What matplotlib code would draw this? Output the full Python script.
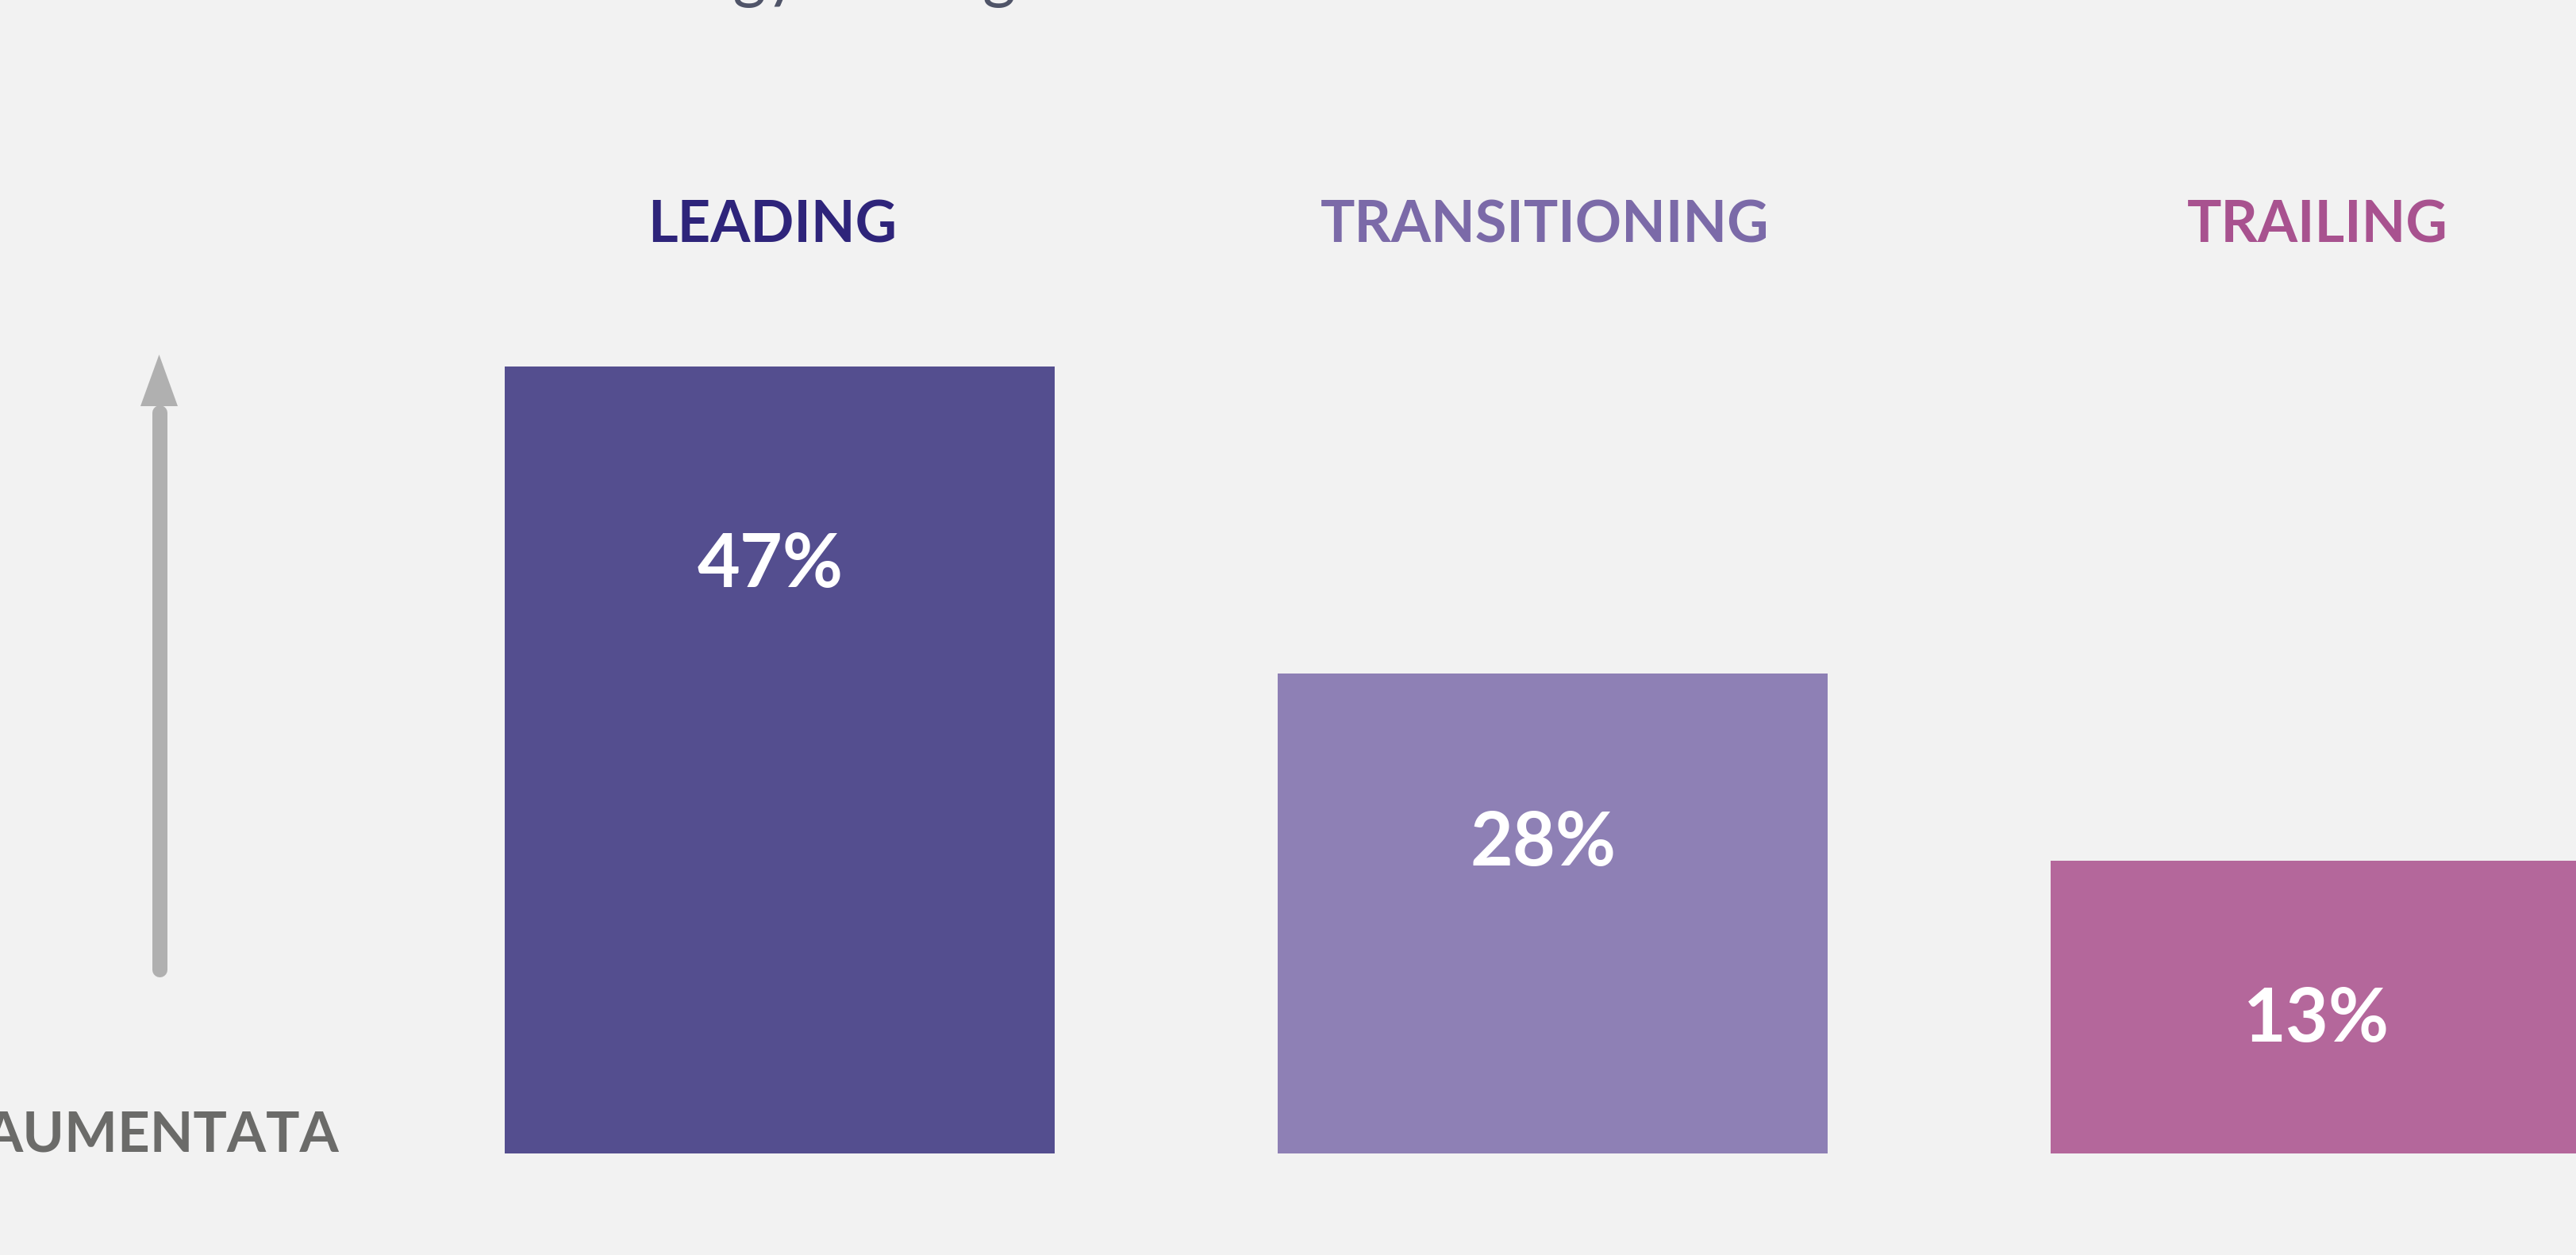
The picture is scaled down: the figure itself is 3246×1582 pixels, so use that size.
# -*- coding: utf-8 -*-
import matplotlib
matplotlib.use("Agg")
import matplotlib.pyplot as plt
from matplotlib.patches import Polygon
from matplotlib.lines import Line2D

# Data
categories = ["LEADING", "TRANSITIONING", "TRAILING"]
shares = [47, 28, 13]
# visual bar heights (the bars are not drawn to scale in the original)
bar_heights = [47, 28.65, 17.45]
bar_colors = ["#544e8f", "#8e80b5", "#b4679b"]
label_colors = ["#2e247a", "#7b6aa8", "#a8528f"]
axis_label = "AUMENTATA"
title_text = "Technology leading"

W, H = 3246, 1582
BG = "#f2f2f2"
FONT = ["Lato", "DejaVu Sans"]


def fx(px):
    return px / W


def fy(py):
    return 1 - py / H


fig = plt.figure(figsize=(W / 100, H / 100), dpi=100, facecolor=BG)

# axes spanning the whole canvas; one x unit = 974 px, one y unit = 21.106 px
ax = fig.add_axes([0, 0, 1, 1])
ax.set_facecolor(BG)
x_unit = 974.0
y_unit = 21.106
x0_px = 982.5
base_px = 1453.7
ax.set_xlim(-x0_px / x_unit, (W - x0_px) / x_unit)
ax.set_ylim(-(H - base_px) / y_unit, base_px / y_unit)
ax.axis("off")

x = list(range(len(categories)))
ax.bar(x, bar_heights, width=693 / x_unit, color=bar_colors, linewidth=0)

# percentage labels inside the bars
pct_drop = [13.2, 11.45, 10.8]
for xi, h, v, d in zip(x, bar_heights, shares, pct_drop):
    ax.text(xi - 0.012, h - d, f"{v}%", ha="center", va="baseline",
            color="white", fontsize=67, fontweight="bold", family=FONT)

# category labels on top
for xi, name, c in zip(x, categories, label_colors):
    ax.text(xi - 0.01, (base_px - 306) / y_unit, name, ha="center",
            va="baseline", color=c, fontsize=52, fontweight="bold",
            family=FONT)

# grey arrow on the left
arrow_c = "#b0b0b0"
fig.add_artist(Line2D([fx(200.5), fx(200.5)], [fy(1222), fy(520)],
                      transform=fig.transFigure, color=arrow_c,
                      linewidth=19 * 72 / 100, solid_capstyle="round"))
fig.add_artist(Polygon([(fx(177), fy(512)), (fx(224), fy(512)),
                        (fx(200.5), fy(447))], closed=True,
                       transform=fig.transFigure, color=arrow_c, lw=0))

fig.text(fx(427), fy(1452), axis_label, ha="right", va="baseline",
         color="#6b6b69", fontsize=51, fontweight="bold", family=FONT)

# title, almost entirely above the visible area
fig.text(fx(1280), fy(-6), title_text, ha="right", va="baseline",
         color="#4f5468", fontsize=58, family=FONT)

fig.savefig("out.png", dpi=100, facecolor=BG)
